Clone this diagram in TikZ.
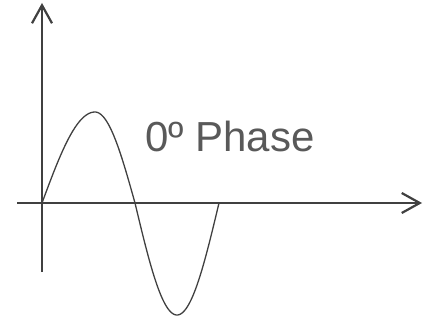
\documentclass[tikz,border=0pt]{standalone}
\usepackage{fontspec}
\setmainfont{Liberation Sans}
\usetikzlibrary{arrows.meta}
\definecolor{axisgray}{HTML}{404040}
\definecolor{textgray}{HTML}{595959}
\tikzset{
  axisline/.style={draw=axisgray, line width=2.2pt, -{Straight Barb[length=18pt,width=20pt,line width=2.2pt]}},
  waveline/.style={draw=axisgray, line width=1.3pt, line join=round},
  labeltext/.style={text=textgray, font=\fontsize{42}{50}\selectfont, inner sep=0pt, anchor=base west}
}
\begin{document}
\begin{tikzpicture}[x=1pt,y=-1pt]
\useasboundingbox (0,0) rectangle (433,320);
\coordinate (ybot) at (42,272);
\coordinate (ytop) at (42,3);
\coordinate (xleft) at (17,203);
\coordinate (xright) at (422,203);
\draw[axisline] (ybot) -- (ytop);
\draw[axisline] (xleft) -- (xright);
\draw[waveline]
  plot[domain=0:90,samples=40,variable=\t] ({42+53*\t/90},{203-91*sin(\t)})
  -- plot[domain=90:180,samples=40,variable=\t] ({95+40*(\t-90)/90},{203-91*sin(\t)})
  -- plot[domain=180:270,samples=40,variable=\t] ({135+42*(\t-180)/90},{203-112*sin(\t)})
  -- plot[domain=270:360,samples=40,variable=\t] ({177+42*(\t-270)/90},{203-112*sin(\t)});
\node[labeltext] (label) at (145,152) {0º Phase};
\end{tikzpicture}
\end{document}
